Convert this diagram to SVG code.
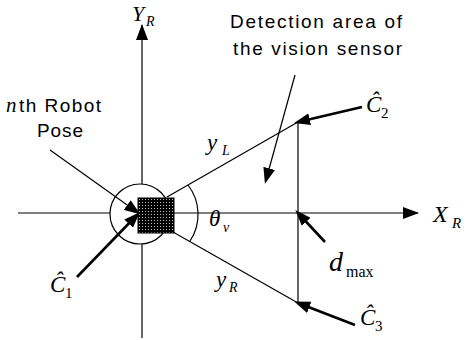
<svg xmlns="http://www.w3.org/2000/svg" width="468" height="340" viewBox="0 0 468 340">
<style>
.ln{stroke:#000;stroke-width:1.2;fill:none}
.thick{stroke:#000;stroke-width:2.6;fill:none}
.sans{font-family:"Liberation Sans",Arial,sans-serif;font-size:19px;fill:#000}
.math{font-family:"Liberation Serif","Times New Roman",serif;font-style:italic;fill:#000}
.rm{font-family:"Liberation Serif","Times New Roman",serif;fill:#000}
</style>
<defs>
<marker id="ah" viewBox="0 0 16 12" refX="12" refY="6" markerWidth="16" markerHeight="12" markerUnits="userSpaceOnUse" orient="auto">
<path d="M0,0 L16,6 L0,12 Z" fill="#000"/>
</marker>
<marker id="ahAxis" viewBox="0 0 16 12" refX="15" refY="6" markerWidth="16" markerHeight="12" markerUnits="userSpaceOnUse" orient="auto">
<path d="M0,0 L16,6 L0,12 Z" fill="#000"/>
</marker>
<pattern id="dots" width="3" height="3" patternUnits="userSpaceOnUse">
<rect width="3" height="3" fill="#000"/>
<rect x="1" y="1" width="1" height="1" fill="#bbb"/>
</pattern>
</defs>
<rect width="468" height="340" fill="#fff"/>

<g id="robot">
<circle cx="140" cy="214" r="30" fill="#fff" stroke="#000" stroke-width="1.2"/>
<rect x="138" y="198" width="36" height="35" fill="url(#dots)" stroke="#000" stroke-width="1"/>
</g>

<g id="connectors">
<line id="x-axis-left" class="ln" x1="18" y1="213" x2="110" y2="213"/>
<line id="x-axis" class="ln" x1="174" y1="213" x2="418" y2="213" marker-end="url(#ahAxis)"/>
<line id="y-axis-bottom" class="ln" x1="142" y1="338" x2="142" y2="244"/>
<line id="y-axis" class="ln" x1="142" y1="184" x2="142" y2="25" marker-end="url(#ahAxis)"/>
<line id="yL-line" class="ln" x1="167" y1="197" x2="298" y2="122"/>
<line id="yR-line" class="ln" x1="173" y1="232" x2="298" y2="303"/>
<line id="dmax-line" class="ln" x1="298" y1="122" x2="298" y2="303"/>
<path id="theta-arc" class="ln" d="M188,185 A48,48 0 0 1 190,241"/>
<line id="pose-arrow" class="ln" x1="50" y1="150" x2="137" y2="212" marker-end="url(#ah)"/>
<line id="c1-arrow" class="thick" x1="77" y1="277" x2="137" y2="215" marker-end="url(#ah)"/>
<line id="det-arrow" class="ln" stroke-width="1.6" x1="295" y1="75" x2="266" y2="180" marker-end="url(#ah)"/>
<line id="c2-arrow" class="thick" x1="362" y1="107" x2="298" y2="122" marker-end="url(#ah)"/>
<line id="c3-arrow" class="thick" x1="355" y1="325" x2="298" y2="303" marker-end="url(#ah)"/>
<line id="dmax-arrow" class="thick" x1="325" y1="242" x2="298" y2="213" marker-end="url(#ah)"/>
</g>

<g id="detection-label">
<text class="sans" x="230" y="28" textLength="172" lengthAdjust="spacing">Detection area of</text>
<text class="sans" x="233" y="55" textLength="169" lengthAdjust="spacing">the vision sensor</text>
</g>

<g id="pose-label">
<text class="math" x="6" y="112" font-size="21">n</text>
<text class="sans" x="19" y="112" textLength="82" lengthAdjust="spacing">th Robot</text>
<text class="sans" x="37" y="137" textLength="46" lengthAdjust="spacing">Pose</text>
</g>

<g id="axis-labels">
<text class="math" x="132" y="21" font-size="22">Y</text>
<text class="math" x="146" y="26" font-size="14">R</text>
<text class="math" x="433" y="222" font-size="24">X</text>
<text class="math" x="452" y="228" font-size="15">R</text>
</g>

<g id="geometry-labels">
<text class="math" x="207" y="150" font-size="23">y</text>
<text class="math" x="222" y="155" font-size="14">L</text>
<text class="math" x="216" y="287" font-size="23">y</text>
<text class="math" x="229" y="292" font-size="14">R</text>
<text class="math" x="209" y="226" font-size="23">θ</text>
<text class="math" x="223" y="232" font-size="14">v</text>
<text class="math" x="329" y="271" font-size="28">d</text>
<text class="rm" x="346" y="277" font-size="16">max</text>
</g>

<g id="c1-label">
<text class="math" x="50" y="292" font-size="23">Ĉ</text>
<text class="rm" x="65" y="298" font-size="15">1</text>
</g>
<g id="c2-label">
<text class="math" x="366" y="112" font-size="23">Ĉ</text>
<text class="rm" x="381" y="118" font-size="15">2</text>
</g>
<g id="c3-label">
<text class="math" x="360" y="325" font-size="23">Ĉ</text>
<text class="rm" x="375" y="331" font-size="15">3</text>
</g>
</svg>
